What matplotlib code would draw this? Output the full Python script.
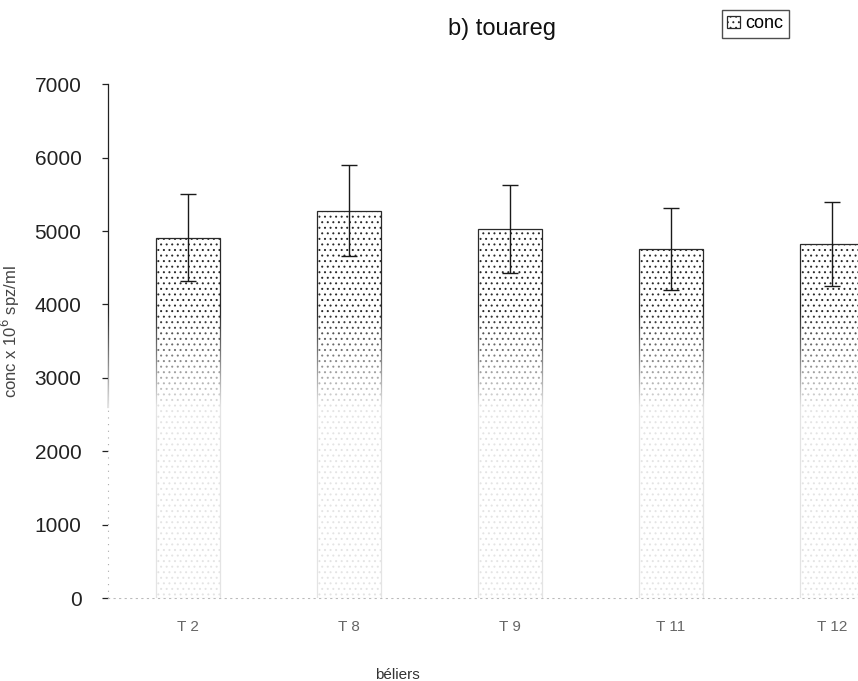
import numpy as np
import matplotlib
import matplotlib.pyplot as plt

matplotlib.use("Agg")

# ============================================================
# 数据
# ============================================================
beliers = ["T 2", "T 8", "T 9", "T 11", "T 12"]
conc = [4910, 5280, 5030, 4760, 4820]
conc_err = [590, 620, 600, 560, 570]
y_ticks = [0, 1000, 2000, 3000, 4000, 5000, 6000, 7000]

plt.rcParams["font.family"] = ["Liberation Sans", "DejaVu Sans"]
plt.rcParams["hatch.color"] = "#909090"
plt.rcParams["hatch.linewidth"] = 0.7

fig = plt.figure(figsize=(8.58, 6.81), dpi=100)
# axe coupé à droite comme le scan d'origine
ax = fig.add_axes([107.8 / 858, 83 / 681, 804.5 / 858, 513.7 / 681])

x = np.arange(len(beliers))
bars = ax.bar(x, conc, width=0.40, color="white", edgecolor="#2a2a2a",
              linewidth=0.9, hatch="...", label="conc", zorder=2)
ax.errorbar(x, conc, yerr=conc_err, fmt="none", ecolor="#1a1a1a",
            elinewidth=1.0, capsize=6, capthick=1.0, zorder=5)

# effet "scan pâli" sur la partie basse
n = 256
yy = np.linspace(0, 3900, n)
alpha = np.clip((3900 - yy) / 1300, 0, 1) * 0.88
white = np.ones((n, 1, 4))
white[:, 0, 3] = alpha
ax.imshow(white, extent=(-0.5, 4.5, 0, 3900), origin="lower",
          aspect="auto", zorder=4)

ax.set_xlim(-0.5, 4.5)
ax.set_ylim(0, 7000)
ax.set_yticks(y_ticks)
ax.set_yticklabels([str(v) for v in y_ticks], fontsize=15)
for lab, v in zip(ax.get_yticklabels(), y_ticks):
    if v <= 2000:
        lab.set_color("#8a8a8a")
ax.tick_params(axis="y", direction="out", length=4, width=0.9, pad=15,
               colors="#222222")
ax.set_xticks(x)
ax.set_xticklabels(beliers, fontsize=11, color="#666666")
ax.tick_params(axis="x", length=0, pad=16)

ax.spines["top"].set_visible(False)
ax.spines["right"].set_visible(False)
ax.spines["left"].set_color("#222222")
ax.spines["left"].set_linewidth(0.9)
ax.spines["left"].set_bounds(2600, 7000)
ax.plot([-0.5, -0.5], [0, 2600], color="#aaaaaa", lw=0.8,
        linestyle=(0, (1, 5)), clip_on=False, zorder=6)
ax.spines["bottom"].set_color("#bbbbbb")
ax.spines["bottom"].set_linestyle((0, (1, 4)))
ax.spines["bottom"].set_linewidth(0.8)

ax.set_ylabel("conc x 10$^{6}$ spz/ml", fontsize=12, color="#444444")
ax.yaxis.set_label_coords((22 - 107.8) / 804.5, (598 - 332) / 513.7)
ax.set_xlabel("béliers", fontsize=11, color="#333333")
ax.xaxis.set_label_coords((397 - 107.8) / 804.5, (598 - 668) / 513.7)

fig.text(502 / 858, 1 - 29 / 681, "b) touareg", fontsize=17,
         ha="center", va="center", color="#111111")

leg = ax.legend(loc="upper left", bbox_to_anchor=(722 / 858, 1 - 10 / 681),
                bbox_transform=fig.transFigure, fontsize=13, frameon=True,
                fancybox=False, handlelength=0.7, handleheight=0.7,
                handletextpad=0.3, borderpad=0.3, borderaxespad=0)
leg.get_frame().set_edgecolor("#222222")
leg.get_frame().set_linewidth(1.0)

fig.savefig("out.png", dpi=100)
